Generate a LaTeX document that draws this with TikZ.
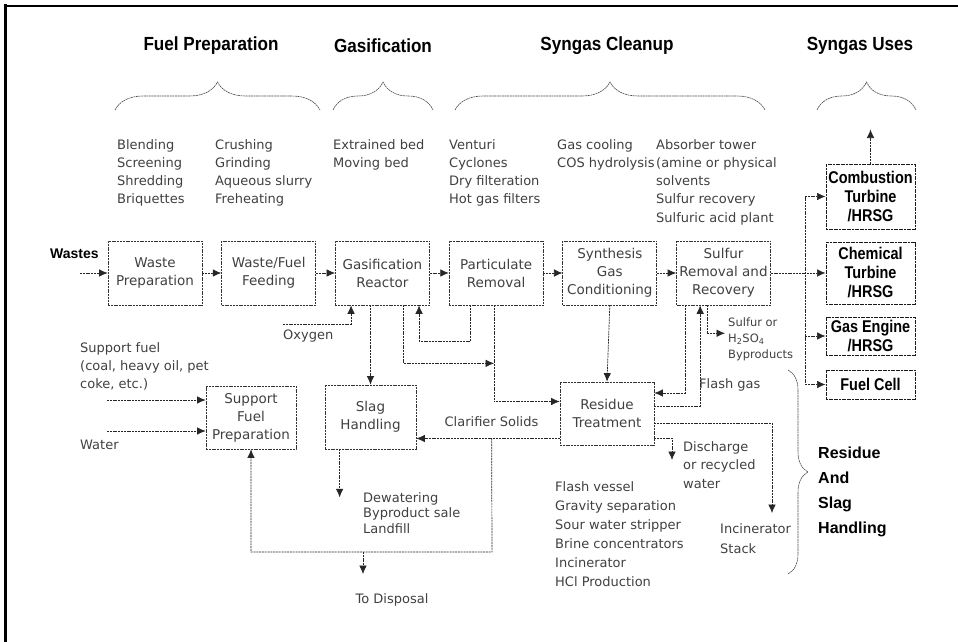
\documentclass[tikz,border=0pt]{standalone}
\usepackage{fontspec}
\setmainfont{DejaVu Sans}
\newfontfamily\headfont[FakeStretch=0.9]{Liberation Sans}
\newfontfamily\syngasfont[FakeStretch=0.85]{Liberation Sans}
\newfontfamily\labelfont{Liberation Sans}
\usetikzlibrary{
  positioning,
  calc,
  arrows.meta,
  decorations.pathreplacing
}
\tikzset{
  node distance=19pt,
  stage/.style={draw=black!80, line width=0.7pt, dash pattern=on 2pt off 0.8pt,
    minimum width=94pt, minimum height=64pt, align=center, inner sep=2pt,
    text=black!75, font=\fontsize{13.5}{18}\selectfont},
  usebox/.style={draw=black!90, line width=1pt, dash pattern=on 2pt off 0.6pt,
    minimum width=89pt, align=center, inner sep=1pt,
    font=\syngasfont\bfseries\fontsize{17}{19}\selectfont},
  pipe/.style={draw=black!85, line width=0.7pt, dash pattern=on 2pt off 0.8pt},
  flow/.style={pipe, -{Latex[length=8.5pt,width=7.5pt]}},
  note/.style={align=left, inner sep=0pt, text=black!75,
    font=\fontsize{13}{18.3}\selectfont},
  head/.style={inner sep=0pt, font=\headfont\bfseries\fontsize{19}{22}\selectfont},
  bracket/.style={decorate, decoration={brace, amplitude=#1},
    draw=black!70, line width=0.6pt, dash pattern=on 2pt off 0.6pt},
  bracket/.default=28pt
}

\begin{document}
\begin{tikzpicture}[x=1pt, y=-1pt]
  \useasboundingbox (0,0) rectangle (958,642);
  % frame
  \draw[line width=3pt] (5,642) -- (5,4.5);
  \draw[line width=1.5pt] (3.5,6) -- (958,6);

  % stage headings
  \node[head] (hfuel) at (211,46) {Fuel Preparation};
  \node[head] (hgas) at (383,46) {Gasification};
  \node[head] (hclean) at (607,46) {Syngas Cleanup};
  \node[head] (huses) at (860,46) {Syngas Uses};

  \draw[bracket] (115,110) -- (320,110);
  \draw[bracket] (333,110) -- (433,110);
  \draw[bracket] (455,110) -- (765,110);
  \draw[bracket] (817,110) -- (916,110);

  % options under each heading
  \node[note, anchor=north west] (fp1) at (117,139) {Blending\\Screening\\Shredding\\Briquettes};
  \node[note, anchor=north west] (fp2) at (215,139) {Crushing\\Grinding\\Aqueous slurry\\Freheating};
  \node[note, anchor=north west] (gsl) at (333,139) {Extrained bed\\Moving bed};
  \node[note, anchor=north west] (prl) at (449,139) {Venturi\\Cyclones\\Dry filteration\\Hot gas filters};
  \node[note, anchor=north west] (sgl) at (557,139) {Gas cooling\\COS hydrolysis};
  \node[note, anchor=north west] (srl) at (656,139) {Absorber tower\\(amine or physical\\solvents\\Sulfur recovery\\Sulfuric acid plant};

  % main train
  \node[stage] (wprep) at (155,273) {Waste\\Preparation};
  \node[stage, right=of wprep] (wfeed) {Waste/Fuel\\Feeding};
  \node[stage, right=of wfeed] (gasr) {Gasification\\Reactor};
  \node[stage, right=of gasr] (partr) {Particulate\\Removal};
  \node[stage, right=of partr] (sgc) {Synthesis\\Gas\\Conditioning};
  \node[stage, right=of sgc] (sulfr) {Sulfur\\Removal and\\Recovery};

  % syngas uses
  \node[usebox, minimum height=65pt] (comb) at (870.5,196.5) {Combustion\\Turbine\\/HRSG};
  \node[usebox, minimum height=62pt] (chem) at (870.5,273) {Chemical\\Turbine\\/HRSG};
  \node[usebox, minimum height=38pt] (geng) at (870.5,336) {Gas Engine\\/HRSG};
  \node[usebox, minimum height=29pt] (fcell) at (870.5,384.5) {Fuel Cell};

  % residue and slag side
  \node[stage, minimum width=90pt, minimum height=63pt] (sfp) at (251,417.5) {Support\\Fuel\\Preparation};
  \node[stage, minimum width=91pt] (slag) at (370.5,417) {Slag\\Handling};
  \node[stage, minimum height=63pt] (resid) at (607,413.5) {Residue\\Treatment};

  % labels
  \node[anchor=west, inner sep=0pt, font=\labelfont\bfseries\fontsize{14}{16}\selectfont] (wastes) at (50,254) {Wastes};
  \node[note, anchor=west] (oxy) at (283,336) {Oxygen};
  \node[note, anchor=north west] (suppl) at (80,342) {Support fuel\\(coal, heavy oil, pet\\coke, etc.)};
  \node[note, anchor=west] (water) at (80,445) {Water};
  \node[note, anchor=north west, font=\fontsize{11.5}{16}\selectfont] (byprod) at (728,317.5) {Sulfur or\\H\textsubscript{2}SO\textsubscript{4}\\Byproducts};
  \node[note, anchor=west] (flash) at (699,385) {Flash gas};
  \node[note] (clarl) at (491.5,422) {Clarifier Solids};
  \node[note, anchor=north west, font=\fontsize{13}{15.5}\selectfont] (slagnote) at (363,492) {Dewatering\\Byproduct sale\\Landfill};
  \node[note, anchor=north west, font=\fontsize{13}{18.5}\selectfont] (disch) at (683,441) {Discharge\\or recycled\\water};
  \node[note, anchor=north west, font=\fontsize{13}{19}\selectfont] (rlist) at (555,481) {Flash vessel\\Gravity separation\\Sour water stripper\\Brine concentrators\\Incinerator\\HCl Production};
  \node[note, anchor=north west, font=\fontsize{13}{20}\selectfont] (stack) at (720,523) {Incinerator\\Stack};
  \node[note, anchor=north] (disp) at (392,593) {To Disposal};
  \node[anchor=north west, align=left, inner sep=0pt,
    font=\labelfont\bfseries\fontsize{16}{25}\selectfont] (rsh) at (818,447) {Residue\\And\\Slag\\Handling};
  \draw[bracket=20pt] (788,370) -- (788,574);

  % free ends
  \coordinate (win) at (80,273);
  \coordinate (oxyin) at (283,324);
  \coordinate (sfin) at (107,400);
  \coordinate (wtin) at (107,431);
  \coordinate (bustop) at (805,196.5);
  \coordinate (busbot) at (805,384.5);
  \coordinate (pjoin) at ($(partr.south)+(-2,58)$);
  \coordinate (clarj) at ($(resid.west)+(-68,25)$);
  \coordinate (dispj) at (492,552);
  \coordinate (dispdrop) at (363,552);
  \coordinate (dischin) at (672,460);
  \coordinate (stackin) at (772,513);

  % main flow
  \draw[flow] (win) -- (wprep.west);
  \draw[flow] (wprep.east) -- (wfeed.west);
  \draw[flow] (wfeed.east) -- (gasr.west);
  \draw[flow] (gasr.east) -- (partr.west);
  \draw[flow] (partr.east) -- (sgc.west);
  \draw[flow] (sgc.east) -- (sulfr.west);
  \draw[flow] (sulfr.east) -- (chem.west);

  \draw[pipe] (bustop) -- (busbot);
  \draw[flow] (bustop) -- (comb.west);
  \draw[flow] (bustop |- geng.west) -- (geng.west);
  \draw[flow] (busbot) -- (fcell.west);
  \draw[flow] (comb.north) -- ++(0,-34);

  % gasifier and cleanup returns
  \draw[flow] (oxyin) -| ($(gasr.south west)+(16,0)$);
  \draw[flow] (gasr.south -| slag.north) -- (slag.north);
  \draw[flow] ($(partr.south west)+(22,0)$) -- ++(0,36) -| ($(gasr.south west)+(84,0)$);
  \draw[flow] ($(gasr.south west)+(68,0)$) |- (pjoin);
  \draw[flow] (partr.south -| pjoin) |- ($(resid.west)+(0,-12)$);
  \draw[flow] (sgc.south) -- (resid.north);
  \draw[flow] ($(sulfr.south west)+(9,0)$) |- ($(resid.east)+(0,-20.5)$);
  \draw[flow] ($(resid.east)+(0,-7.5)$) -| ($(sulfr.south west)+(24,0)$);
  \draw[flow] ($(sulfr.south west)+(31,0)$) |- ($(byprod.west)+(-3,-6)$);

  % residue outlets
  \draw[flow] ($(resid.east)+(0,9.5)$) -| (stackin);
  \draw[flow] ($(resid.east)+(0,24.5)$) -| (dischin);
  \draw[flow] ($(resid.west)+(0,25)$) -- ($(slag.east)+(0,21.5)$);
  \draw[flow] (clarj) -- (dispj) -| (sfp.south);
  \draw[flow] (dispdrop) -- ++(0,22);
  \draw[flow] ($(slag.south west)+(15,0)$) -- ++(0,48);

  % support fuel
  \draw[flow] (sfin) -- (sfin -| sfp.west);
  \draw[flow] (wtin) -- (wtin -| sfp.west);
\end{tikzpicture}
\end{document}
